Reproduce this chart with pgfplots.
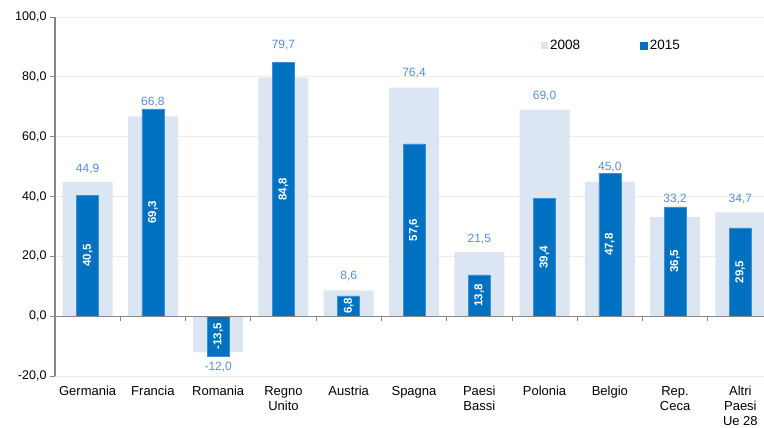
\documentclass[border=0pt]{standalone}
\usepackage{pgfplots}
\pgfplotsset{compat=1.18}
\usepackage{pgfplotstable}
\usepackage{fontspec}
\setmainfont{Liberation Sans}
\definecolor{light}{HTML}{DCE6F2}
\definecolor{dark}{HTML}{0070C0}
\definecolor{darkedge}{HTML}{3A8FD6}
\definecolor{lab}{HTML}{558ED5}
\definecolor{gridc}{HTML}{EEEDE4}
\definecolor{axisg}{HTML}{868686}

% ly = vertical position (data units) of the centre of each 2008 label
\pgfplotstableread{
x v08 v15 ly
0 44.9 40.5 49.2
1 66.8 69.3 71.6
2 -12.0 -13.5 -17.1
3 79.7 84.8 90.5
4 8.6 6.8 13.4
5 76.4 57.6 81.3
6 21.5 13.8 25.9
7 69.0 39.4 73.6
8 45.0 47.8 49.7
9 33.2 36.5 39.1
10 34.7 29.5 39.1
}\data

\begin{document}
\begin{tikzpicture}
\useasboundingbox (-55pt,-52pt) rectangle (709pt,376pt);
\begin{axis}[
  at={(0pt,0pt)}, anchor=south west,
  scale only axis, width=718pt, height=359pt,
  xmin=-0.5, xmax=10.5, ymin=-20, ymax=100,
  ytick={-20,0,...,100},
  xtick={0,...,10},
  xticklabels={Germania,Francia,Romania,Regno\\Unito,Austria,Spagna,Paesi\\Bassi,Polonia,Belgio,Rep.\\Ceca,Altri\\Paesi\\Ue 28},
  xticklabel style={align=center, font=\fontsize{13}{15}\selectfont, yshift=-2pt},
  yticklabel style={font=\fontsize{12.5}{15}\selectfont, /pgf/number format/.cd, fixed, fixed zerofill, precision=1, use comma},
  /pgf/number format/assume math mode=true,
  axis x line*=bottom, axis y line*=left,
  x axis line style={draw=none},
  y axis line style={draw=axisg, line width=1.3pt, -},
  xtick style={draw=none},
  ytick style={draw=axisg, line width=0.8pt},
  tick align=outside,
  major tick length=5pt,
  ymajorgrids, grid style={draw=gridc, line width=0.9pt},
  legend style={at={(486pt,330pt)}, anchor=west, draw=none, fill=none, inner sep=0pt,
    legend columns=2, font=\fontsize{13.5}{16}\selectfont,
    /tikz/every even column/.append style={column sep=58pt}},
]
\addplot[ybar, bar width=0.766, bar shift=0pt, fill=light, draw=none,
  legend image code/.code={\fill[light] (0pt,-3.5pt) rectangle (7pt,3.5pt);}]
  table[x=x, y=v08]{\data};
\addlegendentry{2008}
\addplot[ybar, bar width=0.337, bar shift=0pt, fill=dark, draw=darkedge, line width=0.6pt,
  legend image code/.code={\fill[dark] (0pt,-3.5pt) rectangle (7pt,3.5pt);}]
  table[x=x, y=v15]{\data};
\addlegendentry{2015}
% 2008 value labels
\addplot[draw=none, mark=none, forget plot,
  nodes near coords={\pgfmathprintnumber[fixed,fixed zerofill,precision=1,use comma]{\pgfplotspointmeta}},
  every node near coord/.append style={anchor=center, text=lab, font=\fontsize{12}{14}\selectfont},
  point meta=\thisrow{v08}] table[x=x, y=ly]{\data};
% 2015 value labels
\addplot[draw=none, mark=none, forget plot,
  nodes near coords={\pgfmathprintnumber[fixed,fixed zerofill,precision=1,use comma]{\pgfplotspointmeta}},
  every node near coord/.append style={anchor=center, rotate=90, text=white, font=\bfseries\fontsize{11.5}{13}\selectfont},
  point meta=\thisrow{v15}] table[x=x, y expr=\thisrow{v15}/2]{\data};
\draw[axisg, line width=1.3pt] (axis cs:-0.5,0) -- (axis cs:10.5,0);
\pgfplotsinvokeforeach{0.5,1.5,2.5,3.5,4.5,5.5,6.5,7.5,8.5,9.5}{
  \draw[axisg, line width=0.8pt] (axis cs:#1,0) -- ++(0pt,-5pt);
}
\end{axis}
\end{tikzpicture}
\end{document}
